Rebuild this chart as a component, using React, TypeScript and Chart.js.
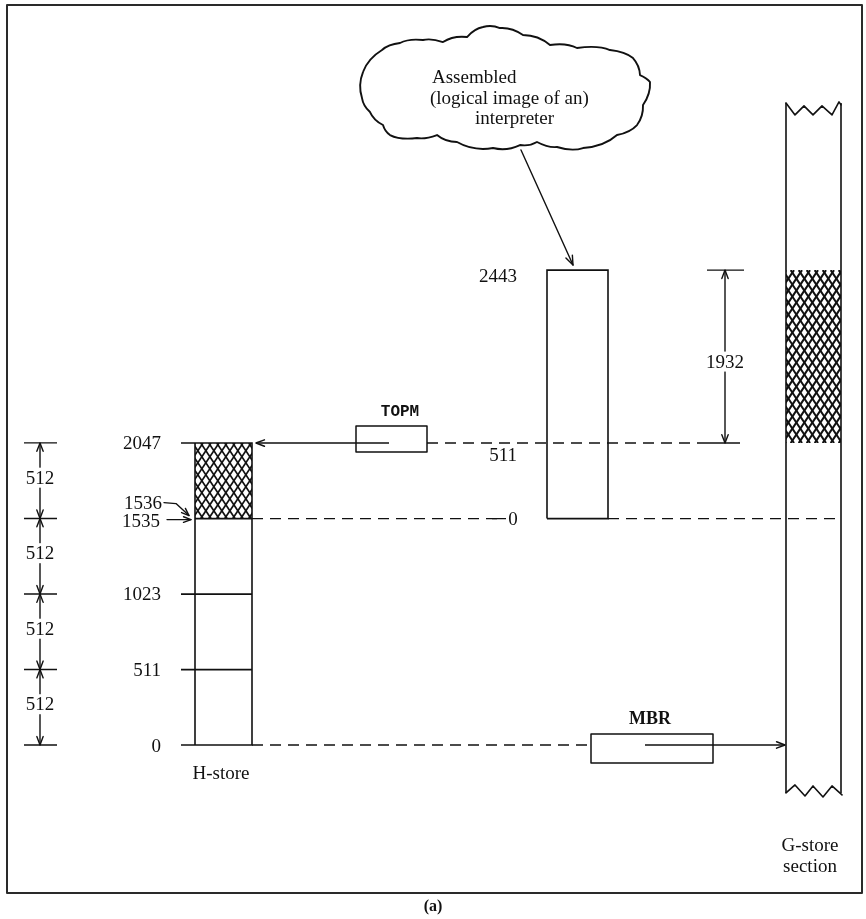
import React, { useEffect, useRef } from "react";
import { Chart, registerables } from "chart.js";

Chart.register(...registerables);

// ---------------- data ----------------
const H_STORE_LEVELS = [0, 511, 1023, 1535, 2047];
const H_STORE_TICK_LABELS = ["0", "511", "1023", "1535", "2047"];
const H_STORE_BLOCK_SIZES = [512, 512, 512, 512];
const H_STORE_HATCH_FROM = 1536;
const INTERP_ADDRESSES = [0, 511, 2443];
const INTERP_TICK_LABELS = ["0", "511", "2443"];
const INTERP_UPPER_SPAN = 1932;
const REGISTER_NAMES = ["TOPM", "MBR"];
const CLOUD_LINES = ["Assembled", "(logical image of an)", "interpreter"];
const STORE_NAMES = ["H-store", "G-store", "section"];
const CAPTION = "(a)";

// ---------------- layout (x in canvas columns, y in H-store address units) ----------------
const Y_MIN = -1179.7;
const Y_MAX = 5050.8;
const COL = {
  dimX: 40, dimTickL: 24, dimTickR: 57,
  hLabelR: 161, hTickL: 181, hL: 195, hR: 252,
  topmL: 356, topmR: 427, topmLineEnd: 389, topmLabelX: 400,
  interpLabelR: 517, zeroLabelX: 513, zeroDashEnd: 497, zeroTailStart: 492, zeroTailEnd: 506,
  iL: 547, iR: 608,
  d1932X: 725, d1932TickL: 707, d1932TickR: 744,
  gL: 786, gR: 841, gDashEnd: 837,
  mbrL: 591, mbrR: 713, mbrLineStart: 645, mbrLabelX: 650,
  frameL: 7, frameR: 862, captionX: 433,
  cloudCX: 500, cloudArrowX1: 521, cloudArrowX2: 573,
  gNameX: 810, hNameX: 221,
};
const LEV = {
  upperCompression: 0.607,
  gTop: 4353, gBottom: -325,
  hName: -190, gName1: -678, gName2: -820, caption: -1092,
  frameTop: 5017, frameBottom: -1003,
  cloudCY: 4454, cloudArrowTop: 4034,
};
const INTERP_LABEL_DY = [0, 12, 6];
const CLOUD_OUTLINE: [number, number][] = [
  [-138, 10], [-137, -16], [-118, -38], [-100, -45], [-77, -48], [-57, -46],
  [-33, -51], [-17, -61], [0, -60], [23, -53], [50, -43], [77, -40], [110, -38],
  [133, -30], [140, -13], [150, -6], [143, 17], [137, 37], [117, 47], [83, 60],
  [57, 59], [37, 54], [20, 57], [-7, 60], [-43, 54], [-63, 47], [-83, 50],
  [-110, 47], [-117, 37], [-130, 24],
];
const CLOUD_TEXT_POS: [number, number][] = [[-68, -5], [-70, 16], [-25, 36]];
const ZIG_TOP: [number, number][] = [[0, 0], [9, 12], [18, 3], [27, 12], [36, 3], [46, 12], [53, -1], [55, 2]];
const ZIG_BOTTOM: [number, number][] = [[0, 0], [9, -8], [19, 3], [27, -7], [37, 4], [46, -7], [56, 2]];

const INK = "#111111";
const SERIF = '"Liberation Serif", "Times New Roman", serif';
const MONO = '"Liberation Mono", "DejaVu Sans Mono", monospace';

type P = { x: number; y: number };
const GAP: P = { x: NaN, y: NaN };

function interpLevel(i: number): number {
  const i0 = INTERP_ADDRESSES[0];
  const iMid = INTERP_ADDRESSES[1];
  const base = H_STORE_LEVELS[3];
  const top = H_STORE_LEVELS[4];
  if (i <= iMid) return base + ((i - i0) * (top - base)) / (iMid - i0);
  return top + (i - iMid) * LEV.upperCompression;
}

function joinSegs(segs: P[][]): P[] {
  const out: P[] = [];
  segs.forEach((s, k) => {
    if (k) out.push(GAP);
    out.push(...s);
  });
  return out;
}

function rect(x1: number, y1: number, x2: number, y2: number): P[] {
  return [
    { x: x1, y: y1 }, { x: x2, y: y1 }, { x: x2, y: y2 }, { x: x1, y: y2 }, { x: x1, y: y1 },
  ];
}

function boundaries(): number[] {
  const b = [0];
  H_STORE_BLOCK_SIZES.forEach((s) => b.push(b[b.length - 1] + s));
  return b;
}

function buildDatasets() {
  const hTop = H_STORE_LEVELS[H_STORE_LEVELS.length - 1];
  const hBottom = H_STORE_LEVELS[0];
  const interpTop = interpLevel(INTERP_ADDRESSES[2]);
  const interpMid = interpLevel(INTERP_ADDRESSES[1]);
  const interpBase = interpLevel(INTERP_ADDRESSES[0]);
  const base = {
    type: "scatter" as const,
    showLine: true,
    pointRadius: 0,
    pointHoverRadius: 0,
    fill: false,
    tension: 0,
    borderColor: INK,
    borderWidth: 1.6,
  };

  const hSegs: P[][] = [rect(COL.hL, hBottom, COL.hR, hTop)];
  H_STORE_LEVELS.forEach((lv) => {
    const left = lv === H_STORE_LEVELS[3] ? COL.hL : COL.hTickL;
    hSegs.push([{ x: left, y: lv }, { x: COL.hR, y: lv }]);
  });

  const bnd = boundaries();
  const dimSegs: P[][] = [[{ x: COL.dimX, y: bnd[0] }, { x: COL.dimX, y: bnd[bnd.length - 1] }]];
  bnd.forEach((b) => dimSegs.push([{ x: COL.dimTickL, y: b }, { x: COL.dimTickR, y: b }]));

  const d1932Segs: P[][] = [
    [{ x: COL.d1932X, y: interpMid }, { x: COL.d1932X, y: interpTop }],
    [{ x: COL.d1932TickL, y: interpTop }, { x: COL.d1932TickR, y: interpTop }],
    [{ x: COL.d1932TickL, y: interpMid }, { x: COL.d1932TickR - 4, y: interpMid }],
  ];

  return [
    { ...base, label: "H-store", data: joinSegs(hSegs) },
    { ...base, label: "Interpreter image", data: rect(COL.iL, interpBase, COL.iR, interpTop) },
    {
      ...base,
      label: "G-store section",
      data: joinSegs([
        [{ x: COL.gL, y: LEV.gBottom }, { x: COL.gL, y: LEV.gTop }],
        [{ x: COL.gR, y: LEV.gBottom }, { x: COL.gR, y: LEV.gTop }],
      ]),
    },
    { ...base, label: "Block sizes", borderWidth: 1.4, data: joinSegs(dimSegs) },
    { ...base, label: "1932 span", borderWidth: 1.4, data: joinSegs(d1932Segs) },
    {
      ...base,
      label: "Pointers",
      borderWidth: 1.4,
      data: joinSegs([
        [{ x: COL.hR + 4, y: hTop }, { x: COL.topmLineEnd, y: hTop }],
        [{ x: COL.mbrLineStart, y: hBottom }, { x: COL.gL - 1, y: hBottom }],
        [{ x: COL.zeroTailStart, y: interpBase }, { x: COL.zeroTailEnd, y: interpBase }],
      ]),
    },
    {
      ...base,
      label: "Dashed",
      borderWidth: 1.4,
      borderDash: [11, 7],
      data: joinSegs([
        [{ x: COL.hR, y: interpBase }, { x: COL.zeroDashEnd, y: interpBase }],
        [{ x: COL.iR, y: interpBase }, { x: COL.gDashEnd, y: interpBase }],
        [{ x: COL.topmR, y: hTop }, { x: COL.d1932TickL, y: hTop }],
        [{ x: COL.hR, y: hBottom }, { x: COL.mbrL, y: hBottom }],
      ]),
    },
  ];
}

function head(ctx: CanvasRenderingContext2D, x: number, y: number, angle: number, len = 9, spread = 0.36) {
  ctx.beginPath();
  ctx.moveTo(x - len * Math.cos(angle - spread), y - len * Math.sin(angle - spread));
  ctx.lineTo(x, y);
  ctx.lineTo(x - len * Math.cos(angle + spread), y - len * Math.sin(angle + spread));
  ctx.stroke();
}

function hatch(ctx: CanvasRenderingContext2D, x1: number, y1: number, x2: number, y2: number, lw: number) {
  ctx.save();
  ctx.beginPath();
  ctx.rect(x1, y1, x2 - x1, y2 - y1);
  ctx.clip();
  ctx.strokeStyle = INK;
  ctx.lineWidth = lw;
  const w = 8;
  const s = 1.5;
  const h = y2 - y1;
  for (let x = x1 - h / s - w; x < x2 + h / s + w; x += w) {
    ctx.beginPath();
    ctx.moveTo(x, y1);
    ctx.lineTo(x + h / s, y2);
    ctx.stroke();
    ctx.beginPath();
    ctx.moveTo(x, y2);
    ctx.lineTo(x + h / s, y1);
    ctx.stroke();
  }
  ctx.restore();
}

function text(ctx: CanvasRenderingContext2D, s: string, x: number, y: number, align: CanvasTextAlign, font: string, bg = false) {
  ctx.font = font;
  ctx.textAlign = align;
  ctx.textBaseline = "middle";
  if (bg) {
    const w = ctx.measureText(s).width;
    const left = align === "center" ? x - w / 2 : align === "right" ? x - w : x;
    ctx.fillStyle = "#ffffff";
    ctx.fillRect(left - 2, y - 10, w + 4, 20);
  }
  ctx.fillStyle = INK;
  ctx.fillText(s, x, y + 1);
}

const diagramPlugin = {
  id: "diagram",
  beforeDraw(chart: any) {
    const ctx: CanvasRenderingContext2D = chart.ctx;
    ctx.save();
    ctx.fillStyle = "#ffffff";
    ctx.fillRect(0, 0, chart.width, chart.height);
    ctx.restore();
  },
  beforeDatasetsDraw(chart: any) {
    const ctx: CanvasRenderingContext2D = chart.ctx;
    const X = (v: number) => chart.scales.x.getPixelForValue(v);
    const Y = (v: number) => chart.scales.y.getPixelForValue(v);
    const hTop = H_STORE_LEVELS[H_STORE_LEVELS.length - 1];
    hatch(ctx, X(COL.hL), Y(hTop), X(COL.hR), Y(H_STORE_HATCH_FROM), 1.7);
    hatch(ctx, X(COL.gL), Y(interpLevel(INTERP_ADDRESSES[2])), X(COL.gR), Y(hTop), 2.0);
  },
  afterDatasetsDraw(chart: any) {
    const ctx: CanvasRenderingContext2D = chart.ctx;
    const X = (v: number) => chart.scales.x.getPixelForValue(v);
    const Y = (v: number) => chart.scales.y.getPixelForValue(v);
    const hTop = H_STORE_LEVELS[H_STORE_LEVELS.length - 1];
    const hBottom = H_STORE_LEVELS[0];
    const interpTop = interpLevel(INTERP_ADDRESSES[2]);
    const interpMid = interpLevel(INTERP_ADDRESSES[1]);
    const num = `19px ${SERIF}`;

    ctx.save();
    ctx.strokeStyle = INK;
    ctx.lineWidth = 1.4;
    ctx.lineCap = "round";
    ctx.lineJoin = "round";

    // block-size dimension arrows and labels
    const bnd = boundaries();
    for (let k = 0; k < H_STORE_BLOCK_SIZES.length; k++) {
      const lo = Y(bnd[k]);
      const hi = Y(bnd[k + 1]);
      head(ctx, X(COL.dimX), hi, -Math.PI / 2);
      head(ctx, X(COL.dimX), lo, Math.PI / 2);
      text(ctx, String(H_STORE_BLOCK_SIZES[k]), X(COL.dimX), (lo + hi) / 2 - 3, "center", num, true);
    }

    // 1932 dimension
    const yT = Y(interpTop);
    const yM = Y(interpMid);
    head(ctx, X(COL.d1932X), yT, -Math.PI / 2);
    head(ctx, X(COL.d1932X), yM, Math.PI / 2);
    text(ctx, String(INTERP_UPPER_SPAN), X(COL.d1932X), (yT + yM) / 2 + 5, "center", num, true);

    // H-store address labels
    H_STORE_LEVELS.forEach((lv, k) => {
      const y = Y(lv);
      if (lv === H_STORE_LEVELS[3]) {
        text(ctx, H_STORE_TICK_LABELS[k], X(COL.hLabelR - 1), y + 2, "right", num);
        ctx.beginPath();
        ctx.moveTo(X(COL.hLabelR + 6), y + 1);
        ctx.lineTo(X(COL.hL - 4), y + 1);
        ctx.stroke();
        head(ctx, X(COL.hL - 4), y + 1, 0, 8);
        // 1536 bent arrow
        const y6 = y - 16;
        text(ctx, String(H_STORE_HATCH_FROM), X(COL.hLabelR + 1), y6, "right", num);
        ctx.beginPath();
        ctx.moveTo(X(COL.hLabelR + 3), y6);
        ctx.lineTo(X(COL.hLabelR + 15), y6 + 1);
        ctx.lineTo(X(COL.hL - 6), y - 3);
        ctx.stroke();
        head(ctx, X(COL.hL - 6), y - 3, Math.atan2(12, 13), 8);
      } else {
        text(ctx, H_STORE_TICK_LABELS[k], X(COL.hLabelR), y + (k === 0 ? 1 : 0), "right", num);
      }
    });

    // interpreter labels
    INTERP_ADDRESSES.forEach((a, k) => {
      const y = Y(interpLevel(a)) + INTERP_LABEL_DY[k];
      if (k === 0) text(ctx, INTERP_TICK_LABELS[k], X(COL.zeroLabelX), y, "center", num);
      else text(ctx, INTERP_TICK_LABELS[k], X(COL.interpLabelR), y, "right", num);
    });

    // TOPM register
    const yTop = Y(hTop);
    ctx.lineWidth = 1.5;
    ctx.strokeRect(X(COL.topmL), yTop - 17, X(COL.topmR) - X(COL.topmL), 26);
    head(ctx, X(COL.hR + 4), yTop, Math.PI, 9);
    text(ctx, REGISTER_NAMES[0], X(COL.topmLabelX), yTop - 32, "center", `bold 16px ${MONO}`);

    // MBR register
    const yBot = Y(hBottom);
    ctx.strokeRect(X(COL.mbrL), yBot - 11, X(COL.mbrR) - X(COL.mbrL), 29);
    head(ctx, X(COL.gL - 1), yBot, 0, 9);
    text(ctx, REGISTER_NAMES[1], X(COL.mbrLabelX), yBot - 27, "center", `bold 18px ${SERIF}`);

    // G-store zigzag ends
    ctx.lineWidth = 1.6;
    const gTopY = Y(LEV.gTop);
    ctx.beginPath();
    ZIG_TOP.forEach(([dx, dy], k) => {
      const px = X(COL.gL) + dx;
      if (k === 0) ctx.moveTo(px, gTopY + dy);
      else ctx.lineTo(px, gTopY + dy);
    });
    ctx.stroke();
    const gBotY = Y(LEV.gBottom);
    ctx.beginPath();
    ZIG_BOTTOM.forEach(([dx, dy], k) => {
      const px = X(COL.gL) + dx;
      if (k === 0) ctx.moveTo(px, gBotY + dy);
      else ctx.lineTo(px, gBotY + dy);
    });
    ctx.stroke();

    // cloud (scalloped outline through the outline vertices)
    const cx = X(COL.cloudCX);
    const cy = Y(LEV.cloudCY);
    const pts = CLOUD_OUTLINE.map(([dx, dy]) => [cx + dx, cy + dy]);
    const n = pts.length;
    ctx.lineWidth = 1.9;
    ctx.beginPath();
    ctx.moveTo(pts[0][0], pts[0][1]);
    for (let i = 0; i < n; i++) {
      const p = pts[i];
      const q = pts[(i + 1) % n];
      const mx = (p[0] + q[0]) / 2;
      const my = (p[1] + q[1]) / 2;
      let ox = mx - cx;
      let oy = (my - cy) * 2.2;
      const ol = Math.hypot(ox, oy) || 1;
      ox /= ol;
      oy /= ol;
      const len = Math.hypot(q[0] - p[0], q[1] - p[1]);
      ctx.quadraticCurveTo(mx + ox * len * 0.18, my + oy * len * 0.18, q[0], q[1]);
    }
    ctx.closePath();
    ctx.stroke();
    ctx.font = `19px ${SERIF}`;
    ctx.textAlign = "left";
    ctx.textBaseline = "alphabetic";
    ctx.fillStyle = INK;
    CLOUD_LINES.forEach((s, k) => {
      ctx.fillText(s, cx + CLOUD_TEXT_POS[k][0], cy + CLOUD_TEXT_POS[k][1]);
    });

    // cloud arrow
    ctx.lineWidth = 1.4;
    const ax1 = X(COL.cloudArrowX1);
    const ay1 = Y(LEV.cloudArrowTop);
    const ax2 = X(COL.cloudArrowX2);
    const ay2 = yT - 5;
    ctx.beginPath();
    ctx.moveTo(ax1, ay1);
    ctx.lineTo(ax2, ay2);
    ctx.stroke();
    head(ctx, ax2, ay2, Math.atan2(ay2 - ay1, ax2 - ax1), 10);

    // store names
    text(ctx, STORE_NAMES[0], X(COL.hNameX), Y(LEV.hName), "center", `19px ${SERIF}`);
    text(ctx, STORE_NAMES[1], X(COL.gNameX), Y(LEV.gName1), "center", `19px ${SERIF}`);
    text(ctx, STORE_NAMES[2], X(COL.gNameX), Y(LEV.gName2), "center", `19px ${SERIF}`);

    // frame and caption
    ctx.strokeStyle = "#2a2a2a";
    ctx.lineWidth = 2;
    ctx.lineCap = "butt";
    ctx.strokeRect(X(COL.frameL), Y(LEV.frameTop), X(COL.frameR) - X(COL.frameL), Y(LEV.frameBottom) - Y(LEV.frameTop));
    text(ctx, CAPTION, X(COL.captionX), Y(LEV.caption), "center", `bold 16px ${SERIF}`);
    ctx.restore();
  },
};

export default function App() {
  const ref = useRef<HTMLCanvasElement>(null);
  useEffect(() => {
    const canvas = ref.current;
    if (!canvas) return;
    const chart = new Chart(canvas, {
      type: "scatter",
      data: { datasets: buildDatasets() as any },
      options: {
        responsive: false,
        maintainAspectRatio: false,
        animation: false,
        events: [],
        layout: { padding: 0 },
        plugins: { legend: { display: false }, tooltip: { enabled: false } },
        scales: {
          x: { type: "linear", min: 0, max: 866, display: false },
          y: { type: "linear", min: Y_MIN, max: Y_MAX, display: false },
        },
      },
      plugins: [diagramPlugin],
    });
    return () => chart.destroy();
  }, []);
  return (
    <div style={{ position: "fixed", left: 0, top: 0, width: 866, height: 919, background: "#ffffff" }}>
      <canvas ref={ref} width={866} height={919} style={{ display: "block", width: 866, height: 919 }} />
    </div>
  );
}
